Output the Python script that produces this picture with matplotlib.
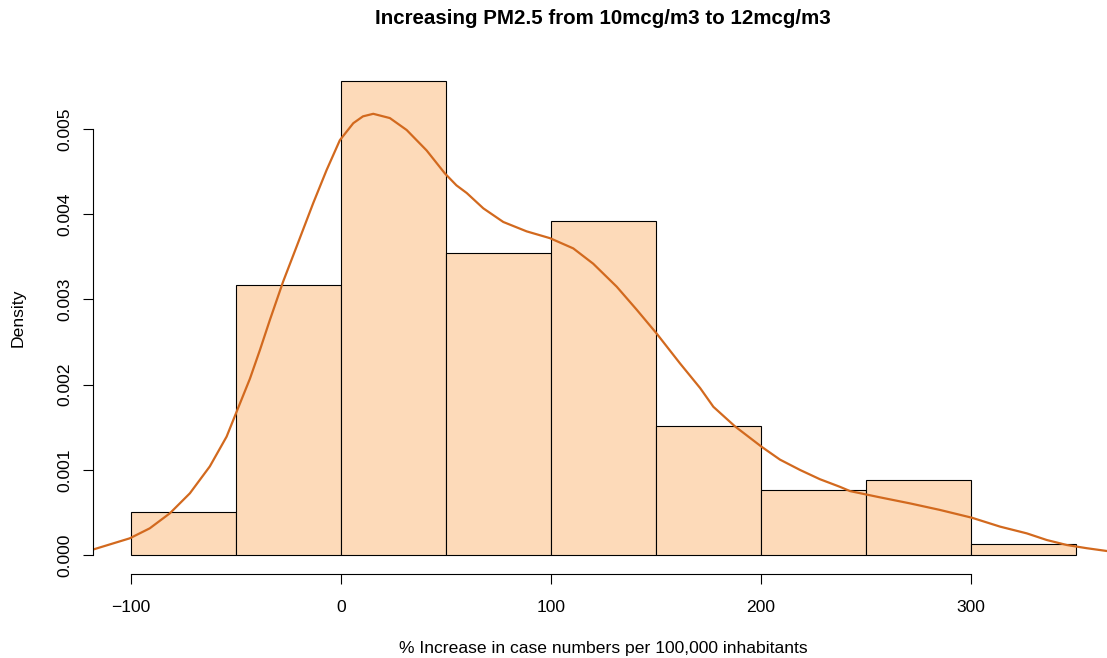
'''
Histogram of the % increase in case numbers with a density curve on top.
Output: out.png
'''

import matplotlib.pyplot as plt

plt.rcParams['font.family'] = ['Liberation Sans', 'DejaVu Sans']

# histogram bins (width 50) and their densities
bin_edges = [-100, -50, 0, 50, 100, 150, 200, 250, 300, 350]
bin_density = [0.000506, 0.003165, 0.00557, 0.003544, 0.003924,
               0.001519, 0.000759, 0.000886, 0.000127]

# density curve
curve_x = [-118.7, -100.5, -91.0, -81.4, -71.9, -62.4, -54.4, -50.0, -43.3,
           -38.5, -33.8, -27.5, -21.1, -13.2, -6.8, -0.5, 5.9, 10.5, 15.4,
           23.3, 31.3, 40.8, 49.5, 55.0, 59.9, 67.8, 77.3, 88.4, 99.5, 110.6,
           120.1, 131.3, 140.8, 150.3, 161.4, 171.0, 177.3, 187.6, 200.3,
           209.0, 218.6, 228.0, 237.6, 242.4, 256.0, 270.9, 285.0, 300.3,
           313.8, 326.5, 336.0, 345.6, 355.0, 364.6]
curve_y = [0.0000587, 0.000196, 0.000313, 0.00049, 0.000724, 0.00104, 0.00139,
           0.00166, 0.00207, 0.00241, 0.00276, 0.00321, 0.00362, 0.00413,
           0.00452, 0.00487, 0.00507, 0.00515, 0.00518, 0.00513, 0.00499,
           0.00475, 0.00448, 0.00434, 0.00425, 0.00407, 0.00391, 0.0038,
           0.00372, 0.0036, 0.00342, 0.00315, 0.00288, 0.0026, 0.00225,
           0.00196, 0.00174, 0.00151, 0.00127, 0.00112, 0.000998, 0.00089,
           0.0008, 0.00075, 0.00068, 0.000606, 0.00053, 0.000438, 0.000333,
           0.000254, 0.000176, 0.000117, 0.00008, 0.000047]

x_ticks = [-100, 0, 100, 200, 300]
y_ticks = [0.000, 0.001, 0.002, 0.003, 0.004, 0.005]

fig = plt.figure(figsize=(11.07, 6.58), dpi=100)
ax = fig.add_axes([93/1107, 84/658, 1021/1107, 513/658])

widths = [b - a for a, b in zip(bin_edges[:-1], bin_edges[1:])]
ax.bar(bin_edges[:-1], bin_density, width=widths, align='edge',
       color='#FDDAB9', edgecolor='black', linewidth=0.8)
ax.plot(curve_x, curve_y, color='#D2691E', linewidth=1.6)

ax.set_xlim(-118, 368)
ax.set_ylim(-0.000223, 0.0058)

# R-like axes
for s in ['top', 'right']:
    ax.spines[s].set_visible(False)
ax.spines['left'].set_bounds(0, 0.005)
ax.spines['bottom'].set_bounds(-100, 300)
ax.set_xticks(x_ticks)
ax.set_xticklabels(['\u2212100', '0', '100', '200', '300'])
ax.set_yticks(y_ticks)
ax.set_yticklabels(['%.3f' % v for v in y_ticks], rotation=90, va='center')
ax.tick_params(axis='both', length=7.5, width=0.8, labelsize=12.6)
ax.tick_params(axis='x', pad=11)
ax.tick_params(axis='y', pad=7)

fig.text(603/1107, 1 - 18/658, 'Increasing PM2.5 from 10mcg/m3 to 12mcg/m3',
         fontsize=14.8, fontweight='bold', ha='center', va='center')
fig.text(603/1107, 1 - 648/658, '% Increase in case numbers per 100,000 inhabitants',
         fontsize=12.6, ha='center', va='center')
fig.text(18/1107, 1 - 318/658, 'Density', fontsize=12.6, rotation=90,
         ha='center', va='center')

plt.savefig('out.png', dpi=100)
